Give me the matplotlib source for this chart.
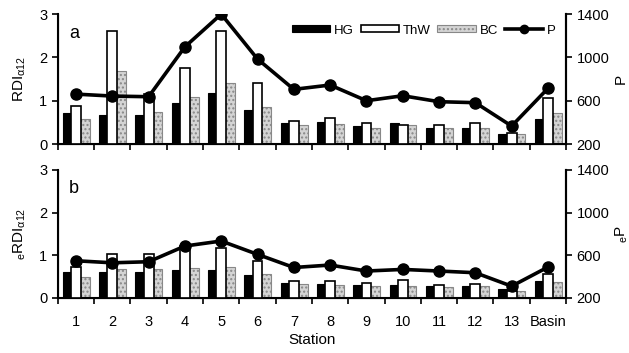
import numpy as np
import matplotlib
matplotlib.use("Agg")
from matplotlib import pyplot as plt

plt.rcParams['font.family'] = ['Liberation Sans', 'DejaVu Sans']
plt.rcParams['mathtext.fontset'] = 'custom'
plt.rcParams['mathtext.rm'] = 'Liberation Sans'
plt.rcParams['mathtext.it'] = 'Liberation Sans:italic'

stations = ['1', '2', '3', '4', '5', '6', '7', '8', '9', '10', '11', '12', '13', 'Basin']

# panel a
hg_a = [0.71, 0.67, 0.67, 0.95, 1.17, 0.78, 0.48, 0.52, 0.42, 0.48, 0.38, 0.38, 0.23, 0.57]
thw_a = [0.88, 2.62, 1.15, 1.75, 2.62, 1.42, 0.54, 0.61, 0.48, 0.44, 0.44, 0.48, 0.26, 1.07]
bc_a = [0.57, 1.69, 0.75, 1.09, 1.40, 0.85, 0.43, 0.46, 0.38, 0.43, 0.38, 0.38, 0.22, 0.71]
p_a = [661, 643, 637, 1098, 1400, 985, 705, 745, 600, 646, 591, 582, 366, 714]

# panel b
hg_b = [0.61, 0.61, 0.61, 0.65, 0.65, 0.53, 0.35, 0.33, 0.30, 0.30, 0.27, 0.27, 0.21, 0.39]
thw_b = [0.73, 1.02, 1.02, 1.22, 1.18, 0.86, 0.39, 0.40, 0.34, 0.42, 0.30, 0.33, 0.16, 0.57]
bc_b = [0.49, 0.67, 0.67, 0.69, 0.73, 0.55, 0.32, 0.30, 0.27, 0.29, 0.25, 0.27, 0.17, 0.38]
p_b = [548, 529, 539, 686, 733, 608, 485, 508, 452, 467, 452, 436, 310, 489]

x = np.arange(1, len(stations) + 1)
w = 0.27

fig = plt.figure(figsize=(6.29, 3.53), dpi=100)
ax_a = fig.add_axes([0.092, 0.592, 0.808, 0.368])
ax_b = fig.add_axes([0.092, 0.156, 0.808, 0.363])


def panel(ax, hg, thw, bc, p, ylab, plab, letter, labels):
    ax.bar(x - w * 0.85, hg, w, color='black', edgecolor='black', lw=0.8, label='HG', zorder=2)
    ax.bar(x, thw, w, color='white', edgecolor='black', lw=1.2, label='ThW', zorder=3)
    ax.bar(x + w * 0.9, bc, w, color='#d4d4d4', edgecolor='#888888', lw=0.8,
           hatch='....', label='BC', zorder=2)
    ax.set_xlim(0.5, 14.5)
    ax.set_ylim(0, 3)
    ax.set_yticks([0, 1, 2, 3])
    ax.set_xticks(np.arange(0.5, 15, 1))
    ax.set_xticklabels([])
    ax.set_xticks(x, minor=True)
    ax.tick_params(axis='x', which='major', direction='out', length=4, width=1.2)
    ax.tick_params(axis='x', which='minor', length=0, pad=12, labelsize=10.5)
    if labels:
        ax.set_xticklabels(stations, minor=True)
    ax.tick_params(axis='y', direction='out', length=4, width=1.2, labelsize=10.5)
    ax.spines['top'].set_visible(False)
    for s in ['left', 'right', 'bottom']:
        ax.spines[s].set_linewidth(1.5)
    ax.set_ylabel(ylab, fontsize=11, labelpad=8)
    ax.text(0.022, 0.82, letter, transform=ax.transAxes, fontsize=13)

    ax2 = ax.twinx()
    ax2.plot(x, p, color='black', lw=2.6, marker='o', markersize=8, label='P', zorder=5)
    ax2.set_ylim(200, 1400)
    ax2.set_yticks([200, 600, 1000, 1400])
    ax2.tick_params(axis='y', direction='out', length=4, width=1.2, labelsize=10.5)
    ax2.spines['top'].set_visible(False)
    ax2.spines['right'].set_linewidth(1.5)
    ax2.set_ylabel(plab, fontsize=11, labelpad=3)
    return ax2


ax2a = panel(ax_a, hg_a, thw_a, bc_a, p_a, r'RDI$_{\mathrm{α12}}$', 'P', 'a', False)
ax2b = panel(ax_b, hg_b, thw_b, bc_b, p_b, r'$_{\mathrm{e}}$RDI$_{\mathrm{α12}}$', r'$_{\mathrm{e}}$P', 'b', True)

h1, l1 = ax_a.get_legend_handles_labels()
h2, l2 = ax2a.get_legend_handles_labels()
ax2a.legend(h1 + h2, l1 + l2, ncol=4, loc='upper right', bbox_to_anchor=(0.99, 0.96),
            frameon=False, fontsize=9.5, handlelength=2.9, handleheight=0.45,
            handletextpad=0.3, columnspacing=0.5, borderaxespad=0, markerscale=0.75)

ax_b.set_xlabel('Station', fontsize=11, labelpad=3)

plt.savefig('out.png', dpi=100)
